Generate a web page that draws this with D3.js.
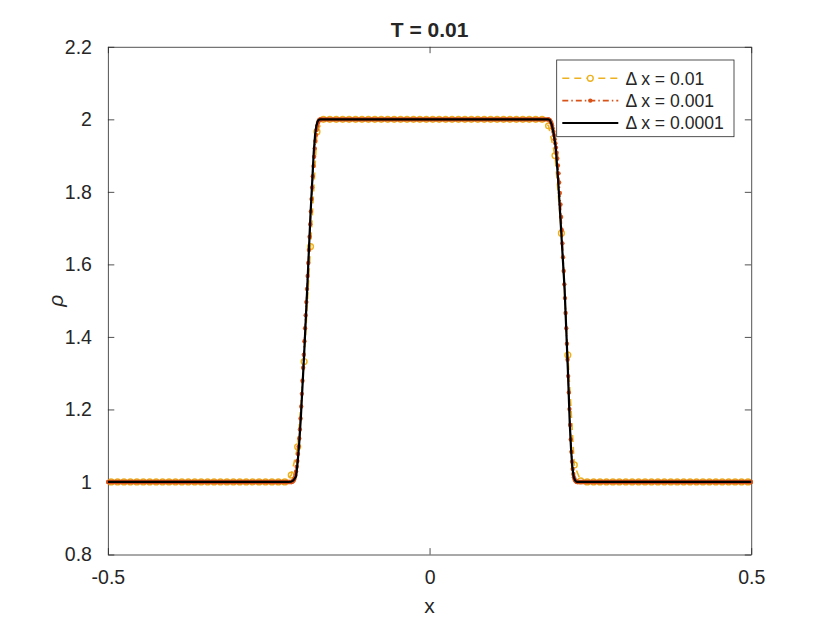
<!DOCTYPE html>
<html><head><meta charset="utf-8">
<script src="https://cdn.jsdelivr.net/npm/d3@7"></script>
<style>
body{margin:0;background:#fff}
svg{display:block}
text{font-family:"Liberation Sans",Arial,Helvetica,sans-serif;fill:#262626}
</style>
</head><body><svg id="c" width="830" height="623"></svg>
<script>
// ---------------- data ----------------
const titleText = "T = 0.01";
const xLabelText = "x";
const yLabelText = "ρ";
const xTicks = [-0.5, 0, 0.5];
const xTickLabels = ["-0.5", "0", "0.5"];
const yTicks = [0.8, 1, 1.2, 1.4, 1.6, 1.8, 2, 2.2];
const yTickLabels = ["0.8", "1", "1.2", "1.4", "1.6", "1.8", "2", "2.2"];
const legendLabels = ["Δ x = 0.01", "Δ x = 0.001", "Δ x = 0.0001"];

// Δx = 0.01 (cell centres)
const xCoarse = [
-0.495,-0.485,-0.475,-0.465,-0.455,-0.445,-0.435,-0.425,-0.415,-0.405,
-0.395,-0.385,-0.375,-0.365,-0.355,-0.345,-0.335,-0.325,-0.315,-0.305,
-0.295,-0.285,-0.275,-0.265,-0.255,-0.245,-0.235,-0.225,-0.215,-0.205,
-0.195,-0.185,-0.175,-0.165,-0.155,-0.145,-0.135,-0.125,-0.115,-0.105,
-0.095,-0.085,-0.075,-0.065,-0.055,-0.045,-0.035,-0.025,-0.015,-0.005,
0.005,0.015,0.025,0.035,0.045,0.055,0.065,0.075,0.085,0.095,
0.105,0.115,0.125,0.135,0.145,0.155,0.165,0.175,0.185,0.195,
0.205,0.215,0.225,0.235,0.245,0.255,0.265,0.275,0.285,0.295,
0.305,0.315,0.325,0.335,0.345,0.355,0.365,0.375,0.385,0.395,
0.405,0.415,0.425,0.435,0.445,0.455,0.465,0.475,0.485,0.495];
const rhoCoarse = [
1,1,1,1,1,1,1,1,1,1,
1,1,1,1,1,1,1,1,1,1,
1,1,1,1,1,1,1,1,1.019,1.097,
1.332,1.649,1.966,2,2,2,2,2,2,2,
2,2,2,2,2,2,2,2,2,2,
2,2,2,2,2,2,2,2,2,2,
2,2,2,2,2,2,2,2,1.982,1.900,
1.686,1.350,1.047,1.003,1,1,1,1,1,1,
1,1,1,1,1,1,1,1,1,1,
1,1,1,1,1,1,1,1,1,1];

// Δx = 0.001 (plateau end points + both fronts)
const xMedium = [-0.4995,
-0.2145,-0.2135,-0.2125,-0.2115,-0.2105,-0.2095,-0.2085,-0.2075,-0.2065,-0.2055,
-0.2045,-0.2035,-0.2025,-0.2015,-0.2005,-0.1995,-0.1985,-0.1975,-0.1965,-0.1955,
-0.1945,-0.1935,-0.1925,-0.1915,-0.1905,-0.1895,-0.1885,-0.1875,-0.1865,-0.1855,
-0.1845,-0.1835,-0.1825,-0.1815,-0.1805,-0.1795,-0.1785,-0.1775,-0.1765,-0.1755,
-0.1745,-0.1735,-0.1725,-0.1715,-0.1705,-0.1695,
0.1845,0.1855,0.1865,0.1875,0.1885,0.1895,0.1905,0.1915,0.1925,0.1935,
0.1945,0.1955,0.1965,0.1975,0.1985,0.1995,0.2005,0.2015,0.2025,0.2035,
0.2045,0.2055,0.2065,0.2075,0.2085,0.2095,0.2105,0.2115,0.2125,0.2135,
0.2145,0.2155,0.2165,0.2175,0.2185,0.2195,0.2205,0.2215,0.2225,0.2235,
0.2245,0.2255,0.2265,0.2275,0.2285,0.2295,
0.4995];
const rhoMedium = [1,
1.000,1.001,1.002,1.004,1.007,1.012,1.019,1.029,1.042,1.058,
1.077,1.098,1.120,1.145,1.175,1.208,1.243,1.279,1.315,1.351,
1.388,1.424,1.460,1.496,1.532,1.568,1.604,1.640,1.676,1.711,
1.746,1.780,1.812,1.843,1.871,1.897,1.920,1.940,1.957,1.971,
1.982,1.990,1.995,1.998,1.999,2.000,
2.000,1.999,1.998,1.996,1.993,1.989,1.983,1.975,1.966,1.956,
1.945,1.934,1.922,1.908,1.892,1.873,1.851,1.826,1.797,1.765,
1.731,1.695,1.658,1.620,1.582,1.545,1.507,1.466,1.424,1.381,
1.337,1.292,1.247,1.201,1.157,1.117,1.083,1.056,1.036,1.022,
1.013,1.007,1.004,1.002,1.001,1.000,
1];

// Δx = 0.0001 (reference solution, sampled)
const xFine = [-0.5,
-0.2200,-0.2150,-0.2120,-0.2100,-0.2075,-0.2050,-0.2025,-0.2000,-0.1950,-0.1900,
-0.1850,-0.1800,-0.1780,-0.1760,-0.1740,-0.1720,-0.1700,
0.1840,0.1870,0.1900,0.1930,0.1960,0.2000,0.2050,0.2100,0.2150,0.2180,
0.2200,0.2220,0.2240,0.2260,0.2280,0.2300,
0.5];
const rhoFine = [1,
1.000,1.001,1.004,1.008,1.016,1.055,1.110,1.180,1.350,1.540,
1.740,1.910,1.955,1.982,1.994,1.999,2.000,
2.000,1.998,1.985,1.960,1.925,1.830,1.680,1.530,1.310,1.160,
1.090,1.040,1.015,1.005,1.001,1.000,
1];

// ---------------- layout ----------------
const W = 830, H = 623;
const L = 107.9, R = 751.2, T = 46.8, B = 554.5;
const cYellow = "#EDB120", cRed = "#D95319", cBlack = "#000000", cAxis = "#262626";

const svg = d3.select("#c");
svg.append("rect").attr("width", W).attr("height", H).attr("fill", "#fff");

const x = d3.scaleLinear().domain([-0.5, 0.5]).range([L, R]);
const y = d3.scaleLinear().domain([0.8, 2.2]).range([B, T]);

const tickLen = 6.4;
const fs = 19.5;

function styleAxis(g) {
  g.select(".domain").attr("stroke", cAxis).attr("stroke-width", 0.8);
  g.selectAll(".tick line").attr("stroke", cAxis).attr("stroke-width", 0.8);
  g.selectAll("text").attr("font-size", fs).attr("font-family", '"Liberation Sans",Arial,sans-serif').attr("fill", cAxis);
}
const gxB = svg.append("g").attr("transform", `translate(0,${B})`)
  .call(d3.axisBottom(x).tickValues(xTicks).tickFormat((d, i) => xTickLabels[i])
        .tickSizeInner(-tickLen).tickSizeOuter(0).tickPadding(16));
styleAxis(gxB);
const gxT = svg.append("g").attr("transform", `translate(0,${T})`)
  .call(d3.axisTop(x).tickValues(xTicks).tickFormat("").tickSizeInner(-tickLen).tickSizeOuter(0));
styleAxis(gxT);
const gyL = svg.append("g").attr("transform", `translate(${L},0)`)
  .call(d3.axisLeft(y).tickValues(yTicks).tickFormat((d, i) => yTickLabels[i])
        .tickSizeInner(-tickLen).tickSizeOuter(0).tickPadding(16));
styleAxis(gyL);
const gyR = svg.append("g").attr("transform", `translate(${R},0)`)
  .call(d3.axisRight(y).tickValues(yTicks).tickFormat("").tickSizeInner(-tickLen).tickSizeOuter(0));
styleAxis(gyR);

// ---------------- series ----------------
const line = d3.line().x(d => x(d[0])).y(d => y(d[1]));
const coarse = xCoarse.map((v, i) => [v, rhoCoarse[i]]);
const medium = xMedium.map((v, i) => [v, rhoMedium[i]]);
const fine = xFine.map((v, i) => [v, rhoFine[i]]);

const plot = svg.append("g");

// Δx = 0.01 : dashed with open circles
plot.append("path").datum(coarse).attr("d", line).attr("fill", "none")
  .attr("stroke", cYellow).attr("stroke-width", 1.6).attr("stroke-dasharray", "7,5");
plot.selectAll(".cc").data(coarse).join("circle")
  .attr("cx", d => x(d[0])).attr("cy", d => y(d[1])).attr("r", 2.9)
  .attr("fill", "none").attr("stroke", cYellow).attr("stroke-width", 1.4);

// Δx = 0.001 : dash-dot with dense dots (plateaus appear as a solid band of dots)
const bands = [];
for (let i = 0; i + 1 < medium.length; i++) {
  if (medium[i + 1][0] - medium[i][0] > 0.003) bands.push([medium[i], medium[i + 1]]);
}
plot.selectAll(".band").data(bands).join("path")
  .attr("d", line).attr("fill", "none").attr("stroke", cRed)
  .attr("stroke-width", 4.4).attr("stroke-linecap", "round");
plot.append("path").datum(medium).attr("d", line).attr("fill", "none")
  .attr("stroke", cRed).attr("stroke-width", 1.6).attr("stroke-dasharray", "6,3,1.5,3");
plot.selectAll(".mc").data(medium).join("circle")
  .attr("cx", d => x(d[0])).attr("cy", d => y(d[1])).attr("r", 2.2)
  .attr("fill", cRed);

// Δx = 0.0001 : solid black
plot.append("path").datum(fine).attr("d", line).attr("fill", "none")
  .attr("stroke", cBlack).attr("stroke-width", 2.2).attr("stroke-linejoin", "round");

// ---------------- labels ----------------
svg.append("text").attr("x", (L + R) / 2).attr("y", 37).attr("text-anchor", "middle")
  .attr("font-size", 21).attr("font-weight", "bold").attr("fill", "#000").text(titleText);
svg.append("text").attr("x", (L + R) / 2).attr("y", 613).attr("text-anchor", "middle")
  .attr("font-size", 21).text(xLabelText);
svg.append("text").attr("transform", `translate(63,${(T + B) / 2}) rotate(-90)`)
  .attr("text-anchor", "middle").attr("font-size", 21).attr("font-style", "italic")
  .attr("font-family", '"DejaVu Serif","Liberation Serif",serif').text(yLabelText);

// ---------------- legend ----------------
const lg = svg.append("g");
const lgX0 = 556.7, lgY0 = 60, lgW = 177.3, lgH = 76.7;
lg.append("rect").attr("x", lgX0).attr("y", lgY0).attr("width", lgW).attr("height", lgH)
  .attr("fill", "#fff").attr("stroke", cAxis).attr("stroke-width", 0.8);
const rowY = [78.3, 100.6, 123.0];
const styles = [
  {c: cYellow, w: 1.6, dash: "7,5", marker: "o"},
  {c: cRed, w: 1.6, dash: "6,3,1.5,3", marker: "."},
  {c: cBlack, w: 2.2, dash: null, marker: null}
];
const s0 = 562.3, s1 = 618.3;
styles.forEach((s, i) => {
  const p = lg.append("line").attr("x1", s0).attr("x2", s1).attr("y1", rowY[i]).attr("y2", rowY[i])
    .attr("stroke", s.c).attr("stroke-width", s.w);
  if (s.dash) p.attr("stroke-dasharray", s.dash);
  const mx = (s0 + s1) / 2;
  if (s.marker === "o") lg.append("circle").attr("cx", mx).attr("cy", rowY[i]).attr("r", 2.9)
    .attr("fill", "#fff").attr("stroke", s.c).attr("stroke-width", 1.4);
  if (s.marker === ".") lg.append("circle").attr("cx", mx).attr("cy", rowY[i]).attr("r", 2.2).attr("fill", s.c);
  lg.append("text").attr("x", 625.5).attr("y", rowY[i]).attr("dy", "0.36em")
    .attr("font-size", 17.6).text(legendLabels[i]);
});
</script>
</body></html>
